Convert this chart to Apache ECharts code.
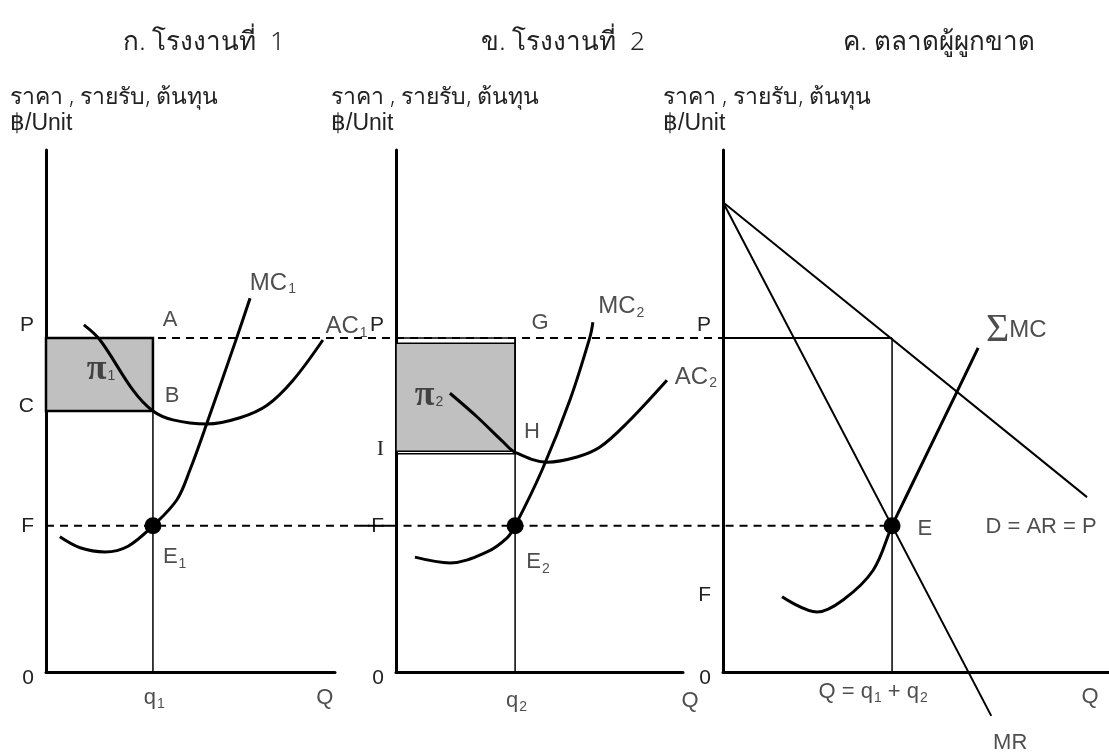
<!DOCTYPE html>
<html>
<head>
<meta charset="utf-8">
<script src="https://cdn.jsdelivr.net/npm/echarts@6/dist/echarts.min.js"></script>
<style>
html, body { margin: 0; padding: 0; background: #fff; }
#chart { width: 1109px; height: 753px; }
</style>
</head>
<body>
<div id="chart"></div>
<script>
// levels on the price axis (same scale in all three panels)
var priceP = 6.4, costC = 5.0, costI = 4.23, levelF = 2.8, levelF3 = 1.47;
// quantities
var q1 = 3.7, q2 = 4.15, qTotal = 4.38;

// curves [q, price]
var ac1 = [[1.31, 6.65], [1.87, 6.36], [3.01, 5.40], [3.70, 5.00], [4.39, 4.83], [5.57, 4.75], [6.71, 4.87], [7.65, 5.11], [8.55, 5.59], [9.58, 6.36]];
var mc1 = [[0.48, 2.59], [1.18, 2.38], [2.04, 2.30], [2.84, 2.41], [3.70, 2.80], [4.53, 3.30], [4.98, 3.87], [5.57, 4.77], [6.61, 6.42], [7.06, 7.16]];
var ac2 = [[1.88, 5.34], [2.82, 4.89], [3.73, 4.41], [4.15, 4.21], [5.26, 4.02], [6.31, 4.12], [7.11, 4.31], [8.05, 4.77], [9.44, 5.59]];
var mc2 = [[0.66, 2.20], [1.88, 2.09], [3.17, 2.30], [3.87, 2.57], [4.15, 2.80], [5.09, 3.87], [6.06, 5.21], [6.76, 6.42], [6.86, 6.70]];
var sumMC = [[1.53, 1.44], [2.44, 1.15], [3.11, 1.38], [3.89, 1.95], [4.38, 2.80], [4.77, 3.40], [6.01, 5.29], [6.61, 6.21]];
var demand = [[0, 9.0], [9.43, 3.35]];
var mr = [[0, 9.0], [6.95, -0.84]];

// tick labels on each price axis
var yNames1 = ['0', 'F', 'C', 'P'];
var yValues1 = [0, levelF, costC, priceP];
var yNames2 = ['0', 'F', 'I', 'P'];
var yValues2 = [0, levelF, costI, priceP];
var yNames3 = ['0', 'F', 'P'];
var yValues3 = [0, levelF3, priceP];

var titles = ['ก. โรงงานที่  1', 'ข. โรงงานที่  2', 'ค. ตลาดผู้ผูกขาด'];
var axisTitle = 'ราคา , รายรับ, ต้นทุน';
var unitTitle = '฿/Unit';

var TXT = '#222';
var LATIN = 'Liberation Sans, Arial, sans-serif';
var SERIF = 'Liberation Serif, DejaVu Serif, serif';
var THAI = 'Noto Sans, DejaVu Sans, sans-serif';

var chart = echarts.init(document.getElementById('chart'));

var sub = {
    s: { fontSize: 14, fontFamily: LATIN, color: TXT, padding: [13, 0, 0, 1] },
    pi: { fontSize: 36, fontWeight: 'bold', fontFamily: SERIF, color: TXT },
    sig: { fontSize: 40, fontFamily: SERIF, color: TXT }
};

// y tick label styles: P sits above its line, 0 a bit below
var tickRich = {
    up: { fontSize: 21, fontFamily: LATIN, color: TXT, padding: [0, 0, 26, 0] },
    mid: { fontSize: 21, fontFamily: LATIN, color: TXT, padding: [0, 0, 10, 0] },
    dn: { fontSize: 21, fontFamily: LATIN, color: TXT, padding: [12, 0, 0, 0] },
    ser: { fontSize: 22, fontFamily: SERIF, color: TXT, padding: [0, 0, 4, 0] },
    n: { fontSize: 21, fontFamily: LATIN, color: TXT }
};
var tickStyle = { '0': 'dn', 'P': 'up', 'C': 'mid', 'I': 'ser', 'F': 'n' };

function grid(left, width) {
    return { left: left, top: 150, width: width, height: 522 };
}

function xAx(i) {
    return {
        gridIndex: i, type: 'value', min: 0, max: 10,
        axisLine: { show: true, onZero: false, lineStyle: { color: '#000', width: 3 } },
        axisTick: { show: false }, axisLabel: { show: false }, splitLine: { show: false }
    };
}

function yAx(i, names, values) {
    return {
        gridIndex: i, type: 'value', min: 0, max: 10,
        axisLine: { show: true, lineStyle: { color: '#000', width: 3 } },
        axisTick: { show: false }, splitLine: { show: false },
        axisLabel: {
            customValues: values,
            margin: 12,
            rich: tickRich,
            formatter: function (v) {
                var k = values.indexOf(v);
                if (k < 0) return '';
                return '{' + tickStyle[names[k]] + '|' + names[k] + '}';
            }
        }
    };
}

function curve(i, data, width) {
    return {
        type: 'line', xAxisIndex: i, yAxisIndex: i, data: data, smooth: 0.35,
        symbol: 'none', clip: false, z: 4,
        lineStyle: { color: '#000', width: width || 3 }
    };
}

// straight segment drawn through the axes of panel i
function seg(i, pts, width, dashed) {
    return {
        type: 'custom', xAxisIndex: i, yAxisIndex: i, z: 3, clip: false,
        data: [[pts[0][0], pts[0][1], pts[1][0], pts[1][1]]],
        renderItem: function (params, api) {
            var a = api.coord([api.value(0), api.value(1)]);
            var b = api.coord([api.value(2), api.value(3)]);
            return {
                type: 'line',
                shape: { x1: a[0], y1: a[1], x2: b[0], y2: b[1] },
                style: { stroke: '#000', lineWidth: width, lineDash: dashed ? [8, 6] : null }
            };
        }
    };
}

function rectSeries(i, box, fill, lw) {
    return {
        type: 'custom', xAxisIndex: i, yAxisIndex: i, data: [box], z: 2, clip: false,
        renderItem: function (params, api) {
            var a = api.coord([api.value(0), api.value(3)]);
            var b = api.coord([api.value(2), api.value(1)]);
            return {
                type: 'rect',
                shape: { x: a[0], y: a[1], width: b[0] - a[0], height: b[1] - a[1] },
                style: { fill: fill, stroke: '#000', lineWidth: lw }
            };
        }
    };
}

function dots(i, pts) {
    return {
        type: 'scatter', xAxisIndex: i, yAxisIndex: i, data: pts, z: 6,
        symbolSize: 17, itemStyle: { color: '#000', opacity: 1 }, clip: false
    };
}

function labels(i, items) {
    return {
        type: 'scatter', xAxisIndex: i, yAxisIndex: i, symbolSize: 0, z: 7, clip: false,
        silent: true,
        label: { show: true, position: 'inside', color: TXT, fontSize: 22, fontFamily: LATIN, rich: sub },
        data: items.map(function (t) {
            return { value: [t[0], t[1]], label: { formatter: t[2], fontSize: t[3] || 22 } };
        })
    };
}

function text(x, y, str, font) {
    return { type: 'text', x: x, y: y, style: { text: str, font: font, fill: TXT, verticalAlign: 'middle' } };
}

function title(x, str) {
    return { type: 'text', x: x, y: 43, style: { text: str, font: '300 26px ' + THAI, fill: TXT, align: 'center', verticalAlign: 'middle' } };
}

var option = {
    backgroundColor: '#fff',
    animation: false,
    grid: [grid(46, 289), grid(396, 287), grid(723, 386)],
    xAxis: [xAx(0), xAx(1), xAx(2)],
    yAxis: [yAx(0, yNames1, yValues1), yAx(1, yNames2, yValues2), yAx(2, yNames3, yValues3)],
    graphic: [
        title(204, titles[0]),
        title(563, titles[1]),
        title(939, titles[2]),
        text(10, 97, axisTitle, '300 23px ' + THAI),
        text(10, 124, unitTitle, '23px ' + LATIN),
        text(331, 97, axisTitle, '300 23px ' + THAI),
        text(331, 124, unitTitle, '23px ' + LATIN),
        text(663, 97, axisTitle, '300 23px ' + THAI),
        text(663, 124, unitTitle, '23px ' + LATIN)
    ],
    series: [
        // panel 1
        rectSeries(0, [0, costC, q1, priceP], '#c0c0c0', 2.5),
        seg(0, [[q1, 0], [q1, priceP]], 1.5),
        seg(0, [[0, priceP], [12.1, priceP]], 2, true),
        seg(0, [[0, levelF], [12.1, levelF]], 2, true),
        curve(0, ac1),
        curve(0, mc1),
        dots(0, [[q1, levelF]]),
        labels(0, [
            [4.29, 6.74, 'A'], [4.36, 5.29, 'B'], [4.45, 2.2, 'E{s|1}'],
            [7.85, 7.45, 'MC{s|1}', 24], [10.4, 6.62, 'AC{s|1}', 24],
            [1.9, 5.8, '{pi|π}{s|1}'],
            [3.75, -0.5, 'q{s|1}'], [9.65, -0.5, 'Q']
        ]),
        // panel 2
        rectSeries(1, [0, 4.18, q2, priceP], 'none', 1.5),
        rectSeries(1, [0, costI, q2, 6.3], '#c0c0c0', 1.5),
        seg(1, [[q2, 0], [q2, priceP]], 1.5),
        seg(1, [[0, priceP], [12.8, priceP]], 2, true),
        seg(1, [[-1.2, levelF], [17.3, levelF]], 2, true),
        curve(1, ac2),
        curve(1, mc2),
        dots(1, [[q2, levelF]]),
        labels(1, [
            [5.02, 6.69, 'G'], [4.74, 4.6, 'H'], [4.95, 2.1, 'E{s|2}'],
            [7.85, 7.0, 'MC{s|2}', 24], [10.45, 5.65, 'AC{s|2}', 24],
            [1.15, 5.3, '{pi|π}{s|2}'],
            [4.2, -0.55, 'q{s|2}'], [10.25, -0.55, 'Q']
        ]),
        // panel 3
        seg(2, [[0, priceP], [qTotal, priceP]], 2),
        seg(2, [[qTotal, 0], [qTotal, priceP]], 1.5),
        seg(2, demand, 2),
        seg(2, mr, 2),
        curve(2, sumMC),
        dots(2, [[qTotal, levelF]]),
        labels(2, [
            [7.6, 6.55, '{sig|Σ}MC', 24], [5.23, 2.74, 'E'], [8.24, 2.78, 'D = AR = P'],
            [3.89, -0.38, 'Q = q{s|1} + q{s|2}'], [9.51, -0.48, 'Q'], [7.44, -1.36, 'MR']
        ])
    ]
};

chart.setOption(option);
</script>
</body>
</html>
